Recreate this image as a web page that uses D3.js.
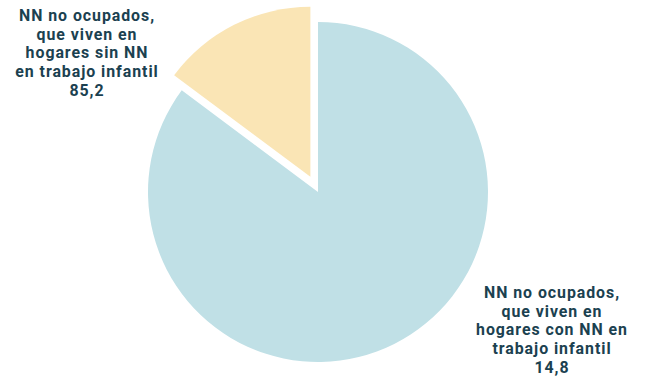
<!DOCTYPE html>
<html>
<head>
<meta charset="utf-8">
<script src="https://cdn.jsdelivr.net/npm/d3@7"></script>
<style>
  body { margin: 0; background: #fff; }
  svg { display: block; }
</style>
</head>
<body>
<svg id="chart"></svg>
<script>
// data
const categories = [
  ["NN no ocupados,", "que viven en", "hogares sin NN", "en trabajo infantil"],
  ["NN no ocupados,", "que viven en", "hogares con NN en", "trabajo infantil"]
];
const values = [85.2, 14.8];
const colors = ["#c0e0e6", "#fae5b5"];

const width = 649, height = 378;
const cx = 318, cy = 192, radius = 170, explode = 17;

const svg = d3.select("#chart")
    .attr("width", width)
    .attr("height", height);

const locale = d3.formatLocale({ decimal: ",", thousands: ".", grouping: [3], currency: ["", ""] });
const fmt = locale.format(".1f");

const pie = d3.pie().sort(null).value(d => d);
const arcs = pie(values);
const arc = d3.arc().innerRadius(0).outerRadius(radius);

const chart = svg.append("g")
    .attr("transform", `translate(${cx},${cy})`);

chart.selectAll("path")
    .data(arcs)
    .join("path")
    .attr("fill", (d, i) => colors[i])
    .attr("d", arc)
    .attr("transform", (d, i) => {
        if (i === 0) return null;
        const mid = (d.startAngle + d.endAngle) / 2;
        return `translate(${Math.sin(mid) * explode},${-Math.cos(mid) * explode})`;
    });

// label positions (layout)
const labelPos = [
    { x: 87, y: 21 },
    { x: 552, y: 298 }
];
const lineH = 18.7;

categories.forEach((lines, i) => {
    const t = svg.append("text")
        .attr("x", labelPos[i].x)
        .attr("y", labelPos[i].y)
        .attr("text-anchor", "middle")
        .style("font-family", "Roboto")
        .style("font-weight", 700)
        .style("font-size", "15.9px")
        .style("letter-spacing", "0.95px")
        .attr("fill", "#1b4150");
    lines.concat([fmt(values[i])]).forEach((l, j) => {
        t.append("tspan")
            .attr("x", labelPos[i].x)
            .attr("y", labelPos[i].y + j * lineH)
            .text(l);
    });
});
</script>
</body>
</html>
